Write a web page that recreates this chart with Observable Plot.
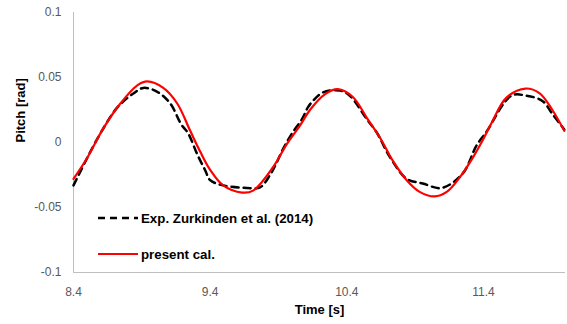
<!DOCTYPE html>
<html>
<head>
<meta charset="utf-8">
<script src="https://cdn.jsdelivr.net/npm/d3@7"></script>
<script src="https://cdn.jsdelivr.net/npm/@observablehq/plot@0.6"></script>
<style>
  html, body { margin: 0; padding: 0; background: #fff; }
  #wrap { position: relative; width: 567px; height: 324px; font-family: "Liberation Sans", Arial, sans-serif; }
  #legend { position: absolute; left: 98px; top: 208px; font-weight: bold; font-size: 13.3px; color: #000; }
  .row { display: flex; align-items: center; height: 20px; }
  .row svg { margin-right: 3px; }
</style>
</head>
<body>
<div id="wrap"></div>
<script>
// Axis ticks
const xTicks = [8.4, 9.4, 10.4, 11.4];
const yTicks = [-0.1, -0.05, 0, 0.05, 0.1];
const yTickLabels = ["-0.1", "-0.05", "0", "0.05", "0.1"];

// Experimental (Zurkinden et al. 2014)
const expTime = [8.400, 8.502, 8.597, 8.721, 8.838, 8.911, 9.013, 9.108, 9.188, 9.239, 9.305, 9.364, 9.400, 9.495, 9.670, 9.765, 9.838, 9.889, 9.933, 9.999, 10.072, 10.115, 10.152, 10.225, 10.349, 10.422, 10.546, 10.619, 10.714, 10.838, 10.955, 11.093, 11.247, 11.349, 11.420, 11.604, 11.714, 11.831, 11.904, 11.991];
const expPitch = [-0.033, -0.0115, 0.007, 0.027, 0.0377, 0.042, 0.039, 0.030, 0.014, 0.007, -0.009, -0.0215, -0.029, -0.033, -0.035, -0.0345, -0.025, -0.015, -0.005, 0.007, 0.018, 0.027, 0.032, 0.0385, 0.040, 0.036, 0.018, 0.0077, -0.011, -0.028, -0.0315, -0.035, -0.024, -0.0023, 0.008, 0.036, 0.036, 0.032, 0.022, 0.010];

// Present calculation
const calTime = [8.400, 8.502, 8.619, 8.743, 8.867, 8.940, 9.057, 9.159, 9.254, 9.327, 9.400, 9.495, 9.634, 9.714, 9.860, 9.962, 10.057, 10.130, 10.239, 10.334, 10.444, 10.546, 10.641, 10.736, 10.838, 10.933, 11.042, 11.131, 11.225, 11.320, 11.393, 11.459, 11.568, 11.707, 11.809, 11.904, 11.991];
const calPitch = [-0.028, -0.0115, 0.011, 0.030, 0.044, 0.047, 0.042, 0.030, 0.009, -0.007, -0.021, -0.033, -0.0385, -0.037, -0.019, -0.001, 0.013, 0.025, 0.037, 0.041, 0.035, 0.019, 0.004, -0.014, -0.029, -0.038, -0.0415, -0.038, -0.027, -0.012, 0.0015, 0.015, 0.0345, 0.0415, 0.038, 0.025, 0.009];

const seriesNames = ["Exp. Zurkinden et al. (2014)", "present cal."];

const expData = expTime.map((t, i) => ({t, v: expPitch[i]}));
const calData = calTime.map((t, i) => ({t, v: calPitch[i]}));

const chart = Plot.plot({
  width: 567,
  height: 324,
  marginLeft: 73,
  marginRight: 2,
  marginTop: 12,
  marginBottom: 52,
  style: { fontFamily: "'Liberation Sans', Arial, sans-serif", fontSize: "12px", color: "#595959", background: "#fff" },
  x: { domain: [8.4, 12.0] },
  y: { domain: [-0.1, 0.1] },
  marks: [
    Plot.axisX({ ticks: xTicks, tickSize: 0, tickPadding: 15, tickFormat: d => d.toFixed(1), label: null, fontSize: 12 }),
    Plot.axisY({ ticks: yTicks, tickSize: 0, tickPadding: 12, tickFormat: d => yTickLabels[yTicks.indexOf(d)], label: null, fontSize: 12 }),
    Plot.ruleX([8.4], { stroke: "#bfbfbf", strokeWidth: 1 }),
    Plot.ruleY([-0.1], { stroke: "#bfbfbf", strokeWidth: 1 }),
    Plot.line(expData, { x: "t", y: "v", stroke: "#000", strokeWidth: 2.5, strokeDasharray: "7,5", curve: "catmull-rom" }),
    Plot.line(calData, { x: "t", y: "v", stroke: "#ff0000", strokeWidth: 2.2, curve: "catmull-rom" }),
    Plot.text(["Pitch [rad]"], { text: d => d, frameAnchor: "left", rotate: -90, dx: -53, fontWeight: "bold", fontSize: 13, fill: "#000" }),
    Plot.text(["Time [s]"], { text: d => d, frameAnchor: "bottom", dy: 41, fontWeight: "bold", fontSize: 13, fill: "#000" })
  ]
});

const wrap = document.getElementById("wrap");
wrap.appendChild(chart);

const legend = document.createElement("div");
legend.id = "legend";
legend.innerHTML = `
  <div class="row"><svg width="40" height="6"><line x1="0" y1="3" x2="40" y2="3" stroke="#000" stroke-width="2.5" stroke-dasharray="7,5"/></svg><span>${seriesNames[0]}</span></div>
  <div class="row" style="margin-top:16px"><svg width="40" height="6"><line x1="0" y1="3" x2="40" y2="3" stroke="#ff0000" stroke-width="2.2"/></svg><span>${seriesNames[1]}</span></div>
`;
wrap.appendChild(legend);
</script>
</body>
</html>
